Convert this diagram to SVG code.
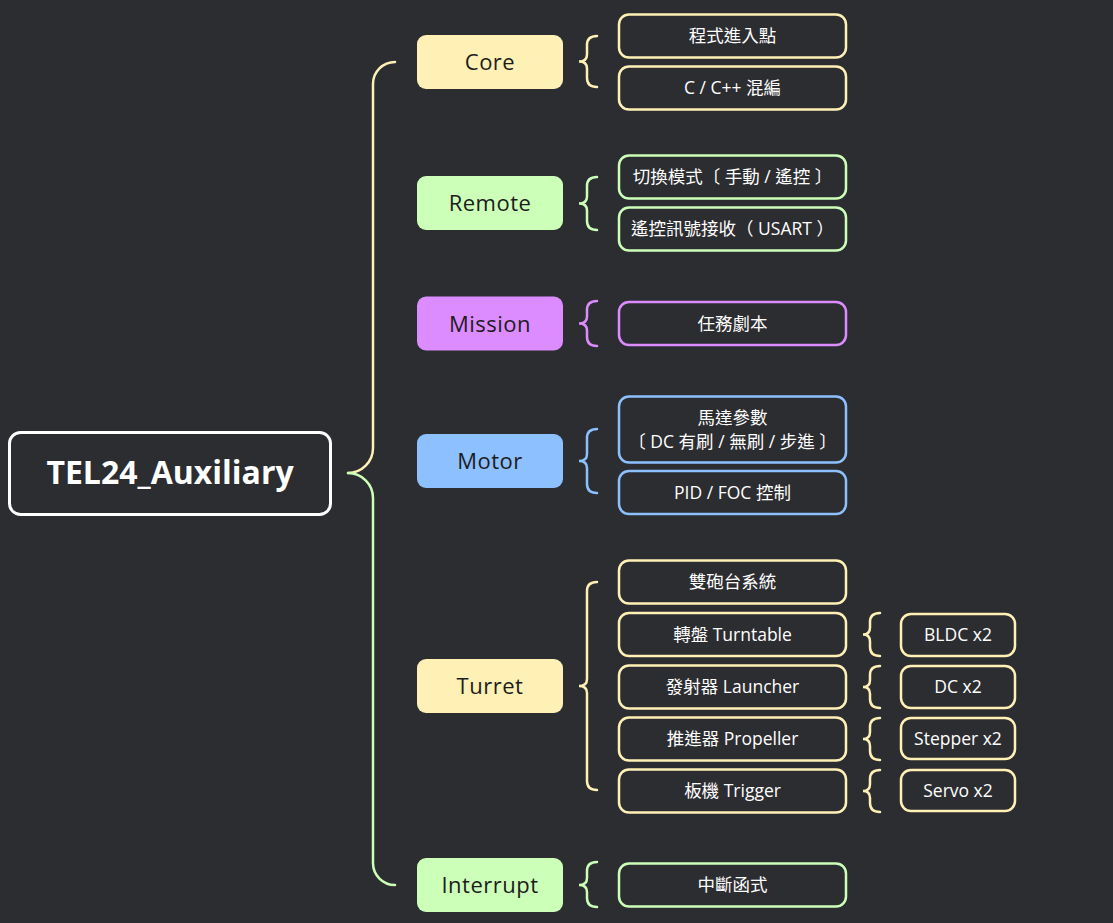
<svg xmlns="http://www.w3.org/2000/svg" width="1113" height="923" viewBox="0 0 1113 923">
<style>
.bg{fill:#2c2d31}
.root rect{fill:#2c2d31;stroke:#ffffff;stroke-width:3}
.root text{font-family:"Open Sans","Noto Sans",sans-serif;font-weight:700;font-size:32px;fill:#ffffff;text-anchor:middle}
.l1 text{font-family:"Open Sans","Noto Sans",sans-serif;font-size:22px;letter-spacing:0.5px;fill:#1c1c1c;text-anchor:middle}
.l1 rect{stroke:none}
.ch rect{fill:#2c2d31;stroke-width:2.5}
.ch text{font-family:"Open Sans","Noto Sans CJK TC",sans-serif;font-size:17.5px;fill:#ffffff;text-anchor:middle;font-weight:400}
.lt{font-weight:500}
.y rect{stroke:#fff0b5}
.g rect{stroke:#ccffb8}
.p rect{stroke:#dc8cff}
.b rect{stroke:#8cc0ff}
.conn path{fill:none;stroke-width:2.5;stroke-linecap:round}
.cy{stroke:#fff0b5}
.cg{stroke:#ccffb8}
.cp{stroke:#dc8cff}
.cb{stroke:#8cc0ff}
</style>
<rect class="bg" x="0" y="0" width="1113" height="923"/>

<g id="connectors" class="conn">
  <path class="cy" stroke-width="3" d="M 348 473 A 25 25 0 0 0 373 448 L 373 84 A 22 22 0 0 1 395 62"/>
  <path class="cg" stroke-width="3" d="M 348 473 A 25 25 0 0 1 373 498 L 373 863 A 22 22 0 0 0 395 885"/>
  <path class="cy" d="M 597 36 Q 587 36 587 45 L 587 54.5 Q 587 61.5 579 61.5 Q 587 61.5 587 68.5 L 587 78 Q 587 87 597 87"/>
  <path class="cg" d="M 597 177 Q 587 177 587 186 L 587 196.5 Q 587 203.5 579 203.5 Q 587 203.5 587 210.5 L 587 221 Q 587 230 597 230"/>
  <path class="cp" d="M 597 301 Q 587 301 587 310 L 587 316.5 Q 587 323.5 579 323.5 Q 587 323.5 587 330.5 L 587 337 Q 587 346 597 346"/>
  <path class="cb" d="M 597 429 Q 587 429 587 438 L 587 454 Q 587 461 579 461 Q 587 461 587 468 L 587 484 Q 587 493 597 493"/>
  <path class="cy" d="M 597 582 Q 587 582 587 591 L 587 679 Q 587 686 579 686 Q 587 686 587 693 L 587 781 Q 587 790 597 790"/>
  <path class="cg" d="M 597 862 Q 587 862 587 871 L 587 878 Q 587 885 579 885 Q 587 885 587 892 L 587 898 Q 587 907 597 907"/>
  <path class="cy" d="M 880 613 Q 870 613 870 622 L 870 627.5 Q 870 634.5 863 634.5 Q 870 634.5 870 641.5 L 870 647 Q 870 656 880 656"/>
  <path class="cy" d="M 880 666 Q 870 666 870 675 L 870 680 Q 870 687 863 687 Q 870 687 870 694 L 870 699 Q 870 708 880 708"/>
  <path class="cy" d="M 880 718 Q 870 718 870 727 L 870 732 Q 870 739 863 739 Q 870 739 870 746 L 870 751 Q 870 760 880 760"/>
  <path class="cy" d="M 880 770 Q 870 770 870 779 L 870 784 Q 870 791 863 791 Q 870 791 870 798 L 870 803 Q 870 812 880 812"/>
</g>

<g id="root" class="root">
  <rect x="9.5" y="432.5" width="321" height="82" rx="11"/>
  <text x="170" y="484">TEL24_Auxiliary</text>
</g>

<g id="core" class="l1"><rect x="417" y="35" width="146" height="54" rx="9" fill="#fff0b5"/><text x="490" y="70">Core</text></g>
<g id="remote" class="l1"><rect x="417" y="176" width="146" height="54" rx="9" fill="#ccffb8"/><text x="490" y="211">Remote</text></g>
<g id="mission" class="l1"><rect x="417" y="296.5" width="146" height="54" rx="9" fill="#dc8cff"/><text x="490" y="331.5">Mission</text></g>
<g id="motor" class="l1"><rect x="417" y="434" width="146" height="54" rx="9" fill="#8cc0ff"/><text x="490" y="469">Motor</text></g>
<g id="turret" class="l1"><rect x="417" y="659" width="146" height="54" rx="9" fill="#fff0b5"/><text x="490" y="694">Turret</text></g>
<g id="interrupt" class="l1"><rect x="417" y="858" width="146" height="54" rx="9" fill="#ccffb8"/><text x="490" y="893">Interrupt</text></g>

<g id="core-entry" class="ch y"><rect x="619" y="14.5" width="227" height="43" rx="10"/><text x="732.5" y="42">程式進入點</text></g>
<g id="core-mix" class="ch y"><rect x="619" y="66.5" width="227" height="43" rx="10"/><text x="732.5" y="94"><tspan class="lt">C / C++ </tspan>混編</text></g>

<g id="remote-mode" class="ch g"><rect x="619" y="155.5" width="227" height="43" rx="10"/><text x="732.5" y="183">切換模式〔 手動 / 遙控 〕</text></g>
<g id="remote-recv" class="ch g"><rect x="619" y="207.5" width="227" height="43" rx="10"/><text x="732.5" y="235">遙控訊號接收（ <tspan class="lt">USART</tspan> ）</text></g>

<g id="mission-script" class="ch p"><rect x="619" y="302" width="227" height="43" rx="10"/><text x="732.5" y="329.5">任務劇本</text></g>

<g id="motor-param" class="ch b"><rect x="619" y="396.5" width="227" height="66" rx="10"/><text x="732.5" y="424">馬達參數</text><text x="732.5" y="448">〔 <tspan class="lt">DC</tspan> 有刷 / 無刷 / 步進 〕</text></g>
<g id="motor-ctrl" class="ch b"><rect x="619" y="471" width="227" height="43" rx="10"/><text x="732.5" y="498.5"><tspan class="lt">PID / FOC </tspan>控制</text></g>

<g id="turret-sys" class="ch y"><rect x="619" y="560.5" width="227" height="43" rx="10"/><text x="732.5" y="588">雙砲台系統</text></g>
<g id="turret-turntable" class="ch y"><rect x="619" y="613" width="227" height="43" rx="10"/><text x="732.5" y="640.5">轉盤 <tspan class="lt">Turntable</tspan></text></g>
<g id="turret-launcher" class="ch y"><rect x="619" y="665.5" width="227" height="43" rx="10"/><text x="732.5" y="693">發射器 <tspan class="lt">Launcher</tspan></text></g>
<g id="turret-propeller" class="ch y"><rect x="619" y="717.5" width="227" height="43" rx="10"/><text x="732.5" y="745">推進器 <tspan class="lt">Propeller</tspan></text></g>
<g id="turret-trigger" class="ch y"><rect x="619" y="769.5" width="227" height="43" rx="10"/><text x="732.5" y="797">板機 <tspan class="lt">Trigger</tspan></text></g>

<g id="bldc" class="ch y"><rect x="901" y="614" width="114" height="42" rx="10"/><text x="958" y="641" class="lt">BLDC x2</text></g>
<g id="dc" class="ch y"><rect x="901" y="666" width="114" height="42" rx="10"/><text x="958" y="693" class="lt">DC x2</text></g>
<g id="stepper" class="ch y"><rect x="901" y="718" width="114" height="41" rx="10"/><text x="958" y="744.5" class="lt">Stepper x2</text></g>
<g id="servo" class="ch y"><rect x="901" y="770" width="114" height="41" rx="10"/><text x="958" y="796.5" class="lt">Servo x2</text></g>

<g id="interrupt-func" class="ch g"><rect x="619" y="863.5" width="227" height="43" rx="10"/><text x="732.5" y="891">中斷函式</text></g>
</svg>
